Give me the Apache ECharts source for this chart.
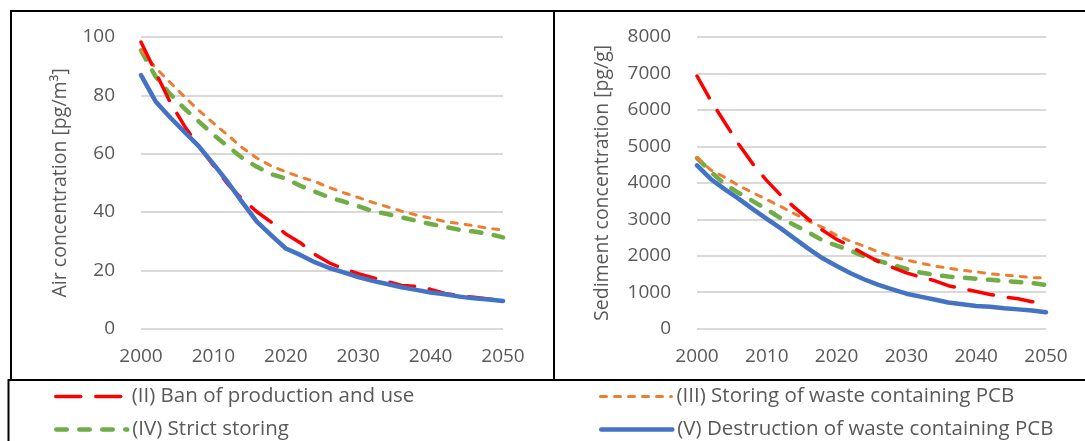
<!DOCTYPE html>
<html>
<head>
<meta charset="utf-8">
<script src="https://cdn.jsdelivr.net/npm/echarts@6/dist/echarts.min.js"></script>
<style>
html,body{margin:0;padding:0;background:#fff;}
#chart{width:1085px;height:441px;}
</style>
</head>
<body>
<div id="chart"></div>
<script>
// ---- data ----
const years = [2000,2002,2004,2006,2008,2010,2012,2014,2016,2018,2020,2022,2024,2026,2028,2030,2032,2034,2036,2038,2040,2042,2044,2046,2048,2050];
const xTicks = [2000, 2010, 2020, 2030, 2040, 2050];
const airTicks = [0, 20, 40, 60, 80, 100];
const sedTicks = [0, 1000, 2000, 3000, 4000, 5000, 6000, 7000, 8000];
const seriesNames = [
  "(II) Ban of production and use",
  "(III) Storing of waste containing PCB",
  "(IV) Strict storing",
  "(V) Destruction of waste containing PCB"
];
const airII  = [98.3,88,77.8,69.5,62.5,56,49.5,44.4,40.1,36.5,32.5,29.5,25.5,22.6,20.5,18.9,17.5,16.2,14.8,14.5,13.5,12.1,11.3,10.8,10.2,9.7];
const airIII = [95.4,89.5,84.5,79.5,74.8,70.5,66.3,62,58.5,55.8,53.8,52,50.5,48.4,46.6,45,43.3,41.8,40.3,39,37.9,36.7,36,35.3,34.4,33.8];
const airIV  = [95.4,86.5,80.5,75.5,71,66.5,62.5,58.5,55.5,53,51.5,49,47,45,43.6,42,40.3,39.3,38.2,37,35.9,34.9,33.9,33.3,32.5,31.3];
const airV   = [86.9,78,72.5,67.5,62.5,56.5,50.2,43.3,36.7,32,27.5,25.3,22.8,20.8,19.3,17.7,16.4,15.3,14.2,13.3,12.4,11.8,11.0,10.4,10.0,9.5];
const sedII  = [6930,6250,5650,5050,4520,4060,3660,3320,3000,2700,2450,2260,2040,1840,1680,1530,1420,1320,1180,1100,1020,940,870,820,740,680];
const sedIII = [4700,4350,4150,3920,3730,3540,3350,3150,2950,2780,2560,2400,2260,2100,1980,1880,1800,1720,1660,1600,1560,1510,1470,1440,1400,1400];
const sedIV  = [4680,4300,3960,3720,3500,3270,3030,2840,2640,2420,2280,2140,1980,1860,1750,1640,1540,1480,1430,1400,1370,1340,1310,1280,1250,1200];
const sedV   = [4480,4100,3820,3560,3280,3010,2750,2470,2190,1930,1720,1520,1350,1200,1080,960,880,800,720,670,620,600,560,530,500,450];

// ---- styles ----
const FONT = "'Open Sans', sans-serif";
const TXT = '#595959';
const styles = [
  {color:'#FF0000', width:3.5, type:[25,15], cap:'round'},
  {color:'#ED7D31', width:3, type:[6,8], cap:'round'},
  {color:'#70AD47', width:4.5, type:[10.5,12.5], cap:'round'},
  {color:'#4472C4', width:4.5, type:'solid', cap:'round'}
];
const pairs = arr => years.map((y,i)=>[y, arr[i]]);

function mkSeries(name, data, idx, st){
  return {
    type:'line', name:name, xAxisIndex:idx, yAxisIndex:idx,
    data:pairs(data), symbol:'none', showSymbol:false, smooth:false,
    lineStyle:{color:st.color, width:st.width, type:st.type, cap:st.cap, join:'round'},
    itemStyle:{color:st.color},
    z: 3
  };
}
const airSets = [airII, airIII, airIV, airV];
const sedSets = [sedII, sedIII, sedIV, sedV];
const series = [];
const order = [2,1,0,3];
order.forEach(i=>series.push(mkSeries(seriesNames[i], airSets[i], 0, styles[i])));
order.forEach(i=>series.push(mkSeries(seriesNames[i], sedSets[i], 1, styles[i])));

const plain = v => String(v);
function xAxis(gi){
  return {
    type:'value', gridIndex:gi, min:xTicks[0], max:xTicks[xTicks.length-1], interval:10,
    axisLine:{show:false}, axisTick:{show:false}, splitLine:{show:false},
    axisLabel:{color:TXT, fontFamily:FONT, fontSize:19, margin:18, formatter:plain}
  };
}
function yAxis(gi, ticks, name, gap){
  return {
    type:'value', gridIndex:gi, min:ticks[0], max:ticks[ticks.length-1], interval:ticks[1]-ticks[0],
    axisLine:{show:false}, axisTick:{show:false},
    splitLine:{show:true, lineStyle:{color:'#D9D9D9', width:2}},
    axisLabel:{color:TXT, fontFamily:FONT, fontSize:19, margin:26, formatter:plain},
    name:name, nameLocation:'middle', nameGap:gap,
    nameTextStyle:{color:TXT, fontFamily:FONT, fontSize:19.5}
  };
}
function legendAt(i, left, top){
  const st = styles[i];
  return {
    data:[seriesNames[i]], left:left, top:top, itemWidth:71, itemHeight:14, padding:0,
    textStyle:{color:TXT, fontFamily:FONT, fontSize:20.5}, selectedMode:false,
    itemStyle:{opacity:0, borderWidth:0},
    lineStyle:{color:st.color, width:st.width, type:st.type, cap:st.cap, opacity:1}
  };
}

const chart = echarts.init(document.getElementById('chart'), null, {renderer:'canvas'});
chart.setOption({
  animation:false,
  backgroundColor:'#fff',
  grid:[
    {left:141, right:1085-503, top:37, bottom:441-328.7},
    {left:697, right:1085-1046, top:37, bottom:441-328.7}
  ],
  xAxis:[xAxis(0), xAxis(1)],
  yAxis:[
    yAxis(0, airTicks, 'Air concentration [pg/m\u00B3]', 71),
    yAxis(1, sedTicks, 'Sediment concentration [pg/g]', 85)
  ],
  legend:[
    legendAt(0, 54, 386),
    legendAt(1, 599, 386),
    legendAt(2, 54, 419),
    legendAt(3, 599, 419)
  ],
  graphic:[
    {type:'line', shape:{x1:10, y1:11, x2:1085, y2:11}, style:{stroke:'#000', lineWidth:2}},
    {type:'line', shape:{x1:11, y1:10, x2:11, y2:380}, style:{stroke:'#000', lineWidth:2}},
    {type:'line', shape:{x1:554, y1:10, x2:554, y2:380}, style:{stroke:'#000', lineWidth:2}},
    {type:'line', shape:{x1:8, y1:380, x2:1085, y2:380}, style:{stroke:'#000', lineWidth:2}},
    {type:'line', shape:{x1:8.5, y1:379, x2:8.5, y2:441}, style:{stroke:'#000', lineWidth:2}}
  ],
  series:series
});
</script>
</body>
</html>
